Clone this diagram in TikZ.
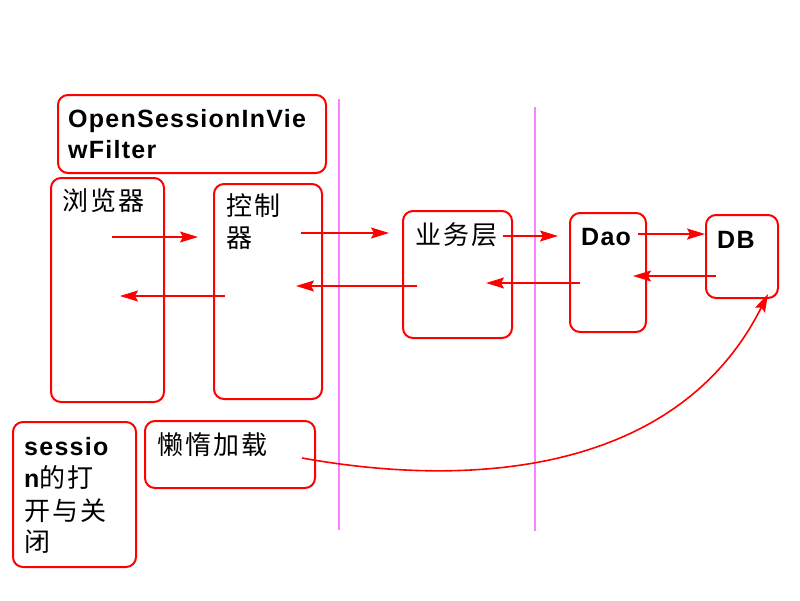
\documentclass[tikz,border=0pt]{standalone}
\usepackage{fontspec}
\setmainfont{Liberation Sans}
\newfontfamily\cjk[LetterSpace=8]{Noto Sans CJK SC}
\newfontfamily\lat[LetterSpace=5]{Liberation Sans}
\usetikzlibrary{arrows.meta}
\definecolor{lred}{RGB}{255,0,0}
\definecolor{lmag}{RGB}{255,128,255}
\begin{document}
\begin{tikzpicture}[x=1pt,y=-1pt,
  box/.style={draw=lred,line width=2pt,rounded corners=10pt,inner sep=0pt,anchor=north west},
  txt/.style={anchor=base west,inner sep=0pt,font=\fontsize{25}{32}\selectfont},
  ctxt/.style={anchor=base west,inner sep=0pt,font=\fontsize{26}{32}\selectfont},
  conn/.style={draw=lred,line width=1.6pt,-{Stealth[length=18pt,width=11pt,inset=3pt]}},
  sep/.style={draw=lmag,line width=2pt}]
\useasboundingbox[fill=white] (0,0) rectangle (800,600);
% separators
\coordinate (s1t) at (339,99); \coordinate (s1b) at (339,530);
\coordinate (s2t) at (535,107); \coordinate (s2b) at (535,531);
\draw[sep] (s1t) -- (s1b);
\draw[sep] (s2t) -- (s2b);
% boxes
\node[box,minimum width=268pt,minimum height=78pt] (osiv) at (57,94) {};
\node[box,minimum width=113pt,minimum height=224pt] (brw) at (50,177) {};
\node[box,minimum width=108pt,minimum height=215pt] (ctl) at (213,183) {};
\node[box,minimum width=109pt,minimum height=127pt] (svc) at (402,210) {};
\node[box,minimum width=76pt,minimum height=119pt] (dao) at (569,212) {};
\node[box,minimum width=72pt,minimum height=83pt] (db) at (705,214) {};
\node[box,minimum width=123pt,minimum height=145pt] (ses) at (12,421) {};
\node[box,minimum width=170pt,minimum height=67pt] (lazy) at (144,420) {};
% texts
\node[txt] (osivt1) at (68,127) {\lat\bfseries OpenSessionInVie};
\node[txt] (osivt2) at (68,158) {\lat\bfseries wFilter};
\node[ctxt] (brwt) at (62,210) {\cjk 浏览器};
\node[ctxt] (ctlt1) at (226,215) {\cjk 控制};
\node[ctxt] (ctlt2) at (226,247) {\cjk 器};
\node[ctxt] (svct) at (415,244) {\cjk 业务层};
\node[txt] (daot) at (581,245) {\lat\bfseries Dao};
\node[txt] (dbt) at (717,248) {\lat\bfseries DB};
\node[txt] (sest1) at (24,455) {\lat\bfseries sessio};
\node[ctxt] (sest2) at (24,487) {{\lat\bfseries\fontsize{25}{32}\selectfont n}{\cjk 的打}};
\node[ctxt] (sest3) at (24,520) {\cjk 开与关};
\node[ctxt] (sest4) at (24,551) {\cjk 闭};
\node[ctxt] (lazyt) at (157,454) {\cjk 懒惰加载};
% arrow end points
\coordinate (a1s) at (112,237); \coordinate (a1e) at (198,237);
\coordinate (a2s) at (225,296); \coordinate (a2e) at (120,296);
\coordinate (a3s) at (301,233); \coordinate (a3e) at (389,233);
\coordinate (a4s) at (417,286); \coordinate (a4e) at (296,286);
\coordinate (a5s) at (503,236); \coordinate (a5e) at (558,236);
\coordinate (a6s) at (580,283); \coordinate (a6e) at (486,283);
\coordinate (a7s) at (638,234); \coordinate (a7e) at (705,234);
\coordinate (a8s) at (716,276); \coordinate (a8e) at (633,276);
\coordinate (cs) at (302,458); \coordinate (ce) at (768,294);
\draw[conn] (a1s) -- (a1e);
\draw[conn] (a2s) -- (a2e);
\draw[conn] (a3s) -- (a3e);
\draw[conn] (a4s) -- (a4e);
\draw[conn] (a5s) -- (a5e);
\draw[conn] (a6s) -- (a6e);
\draw[conn] (a7s) -- (a7e);
\draw[conn] (a8s) -- (a8e);
\draw[conn] (cs) .. controls (480,490) and (680,470) .. (ce);
\end{tikzpicture}
\end{document}
